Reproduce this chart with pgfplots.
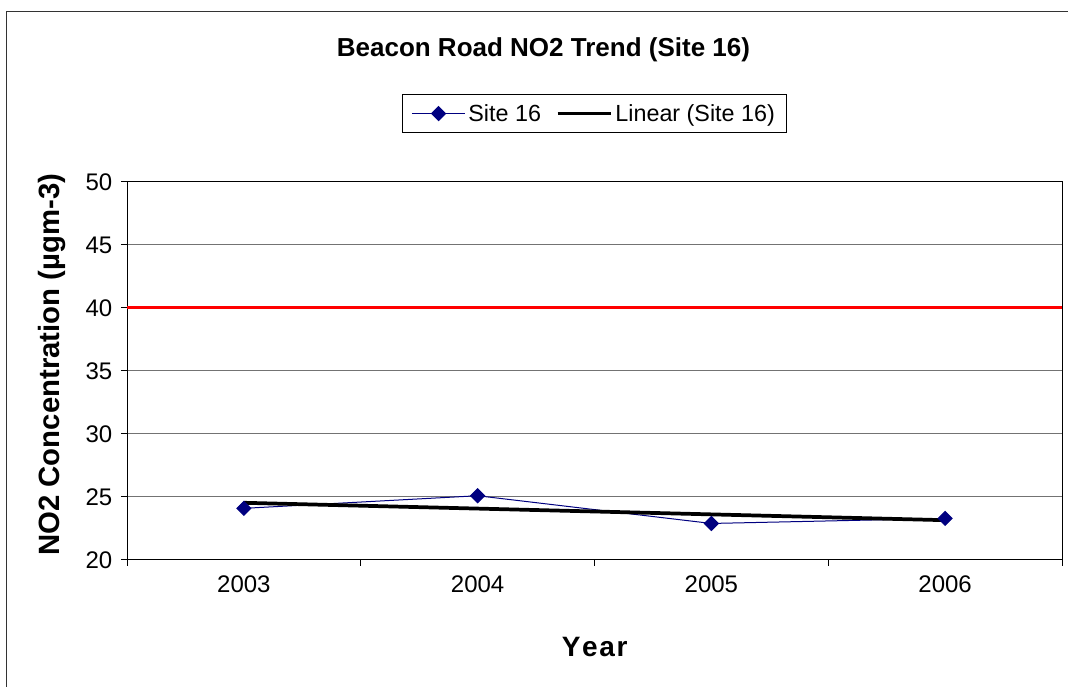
\documentclass[border=0pt]{standalone}
\usepackage{pgfplots}
\pgfplotsset{compat=1.18}
\usepackage{fontspec}
\setmainfont{Liberation Sans}
\definecolor{navyblue}{RGB}{0,0,128}
\begin{document}
\begin{tikzpicture}
\clip (0pt,0pt) rectangle (801pt,514.5pt);
\draw[black!80, line width=0.75pt] (4.5pt,-20pt) rectangle (830pt,505.5pt);
\begin{axis}[
  at={(95.25pt,94.5pt)}, anchor=south west,
  width=701.25pt, height=283.5pt, scale only axis,
  xmin=-0.5, xmax=3.5, ymin=20, ymax=50,
  xtick={-0.5,0.5,1.5,2.5,3.5}, xticklabels={},
  extra x ticks={0,1,2,3},
  extra x tick labels={2003,2004,2005,2006},
  extra x tick style={major tick length=0pt, xticklabel style={yshift=-8pt}},
  ytick={20,25,...,50},
  xtick pos=bottom, ytick pos=left,
  tick align=outside,
  major tick length=4.5pt,
  tick style={black, line width=0.75pt},
  ymajorgrids,
  grid style={black!55, line width=0.75pt},
  axis line style={black, line width=0.75pt},
  tick label style={font=\fontsize{18}{20}\selectfont},
  yticklabel style={xshift=-3pt},
  /pgf/number format/assume math mode=true,
  clip=false,
  legend columns=2,
  legend style={at={(rel axis cs:0.5,1.181)}, anchor=center, draw=black, line width=0.75pt,
    font=\fontsize{17.5}{20}\selectfont, inner xsep=7pt, inner ysep=5pt,
    /tikz/every even column/.append style={column sep=9pt}},
  legend image code/.code={\draw[mark repeat=2,mark phase=2,#1] plot coordinates {(0pt,0pt)(20pt,0pt)(40pt,0pt)};},
]
\addplot[red, line width=2.25pt, forget plot] coordinates {(-0.5,40) (3.5,40)};
\addplot[navyblue, line width=0.75pt, mark=square*, mark size=3.7pt, mark options={rotate=45, solid, fill=navyblue}]
  coordinates {(0,24.1) (1,25.1) (2,22.9) (3,23.3)};
\addlegendentry{Site 16}
\addplot[black, line width=2.8pt] coordinates {(0,24.54) (3,23.16)};
\addlegendentry{Linear (Site 16)}
\end{axis}
\node[font=\bfseries\fontsize{19.5}{22}\selectfont] at (407.6pt,477pt) {Beacon Road NO2 Trend (Site 16)};
\node[rotate=90, font=\bfseries\fontsize{22}{24}\selectfont] at (39pt,241pt) {NO2 Concentration (µgm-3)};
\node[font=\bfseries\fontsize{21}{24}\selectfont] at (446pt,29.25pt) {Y\kern1.2pt e\kern1.2pt a\kern1.2pt r};
\end{tikzpicture}
\end{document}
